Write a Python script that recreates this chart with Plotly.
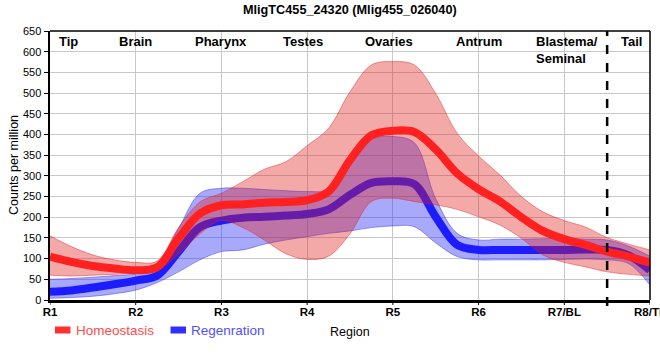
import plotly.graph_objects as go

# ---------------- data ----------------
categories = ["R1", "R2", "R3", "R4", "R5", "R6", "R7/BL", "R8/TL"]
regions = ["Tip", "Brain", "Pharynx", "Testes", "Ovaries", "Antrum", "Blastema/<br>Seminal", "Tail"]
region_pos = [0.22, 1.0, 2.0, 2.95, 3.95, 5.0, 6.03, 6.78]

# sample positions along the body axis (in region units, R1 = 0 ... R8 = 7)
pos = [0, 0.25, 0.5, 0.75, 1, 1.25, 1.5, 1.75, 2, 2.25, 2.5, 2.75, 3, 3.25, 3.5, 3.75,
       4, 4.25, 4.5, 4.75, 5, 5.25, 5.5, 5.75, 6, 6.25, 6.5, 6.75, 7]

homeo_mean = [105, 92, 82, 76, 72, 79, 149, 209, 229, 231, 235, 237, 241, 262, 338, 398,
              409, 406, 364, 306, 268, 238, 200, 167, 147, 133, 117, 105, 90]
homeo_upper = [155, 129, 109, 97, 91, 94, 175, 237, 258, 286, 316, 334, 373, 415, 503, 568,
               576, 568, 499, 403, 348, 302, 250, 213, 192, 176, 151, 135, 121]
homeo_lower = [60, 58, 60, 62, 65, 72, 110, 160, 192, 175, 145, 112, 98, 106, 160, 238,
               246, 238, 230, 219, 201, 181, 149, 109, 91, 80, 68, 62, 58]

regen_mean = [20, 23, 30, 38, 47, 59, 117, 176, 192, 199, 201, 204, 208, 219, 254, 283,
              287, 280, 201, 133, 121, 121, 121, 121, 121, 122, 121, 108, 72]
regen_upper = [50, 52, 55, 59, 64, 87, 173, 258, 270, 270, 267, 264, 262, 267, 334, 388,
               395, 380, 245, 161, 145, 147, 147, 148, 149, 147, 145, 130, 106]
regen_lower = [4, 6, 9, 15, 24, 42, 68, 97, 117, 121, 135, 145, 153, 161, 167, 175,
               179, 177, 138, 105, 97, 97, 97, 97, 98, 99, 97, 88, 36]

y_ticks = list(range(0, 651, 50))
title_text = "MligTC455_24320 (Mlig455_026040)"
series_names = ["Homeostasis", "Regenration"]

# ---------------- figure ----------------
W, H = 660, 360
ML, MR, MT, MB = 50, 10, 31, 60
PW, PH = W - ML - MR, H - MT - MB


def px(xp):
    return (xp - ML) / PW


def py(yp):
    return (H - MB - yp) / PH


FONT = "Liberation Sans, Arial, sans-serif"

fig = go.Figure()


def band(lower, upper, fillcol, edgecol):
    fig.add_trace(go.Scatter(x=pos, y=lower, mode="lines", line=dict(color=edgecol, width=1, shape="spline"),
                             showlegend=False, hoverinfo="skip"))
    fig.add_trace(go.Scatter(x=pos, y=upper, mode="lines", line=dict(color=edgecol, width=1, shape="spline"),
                             fill="tonexty", fillcolor=fillcol, showlegend=False, hoverinfo="skip"))


band(regen_lower, regen_upper, "rgba(40,40,245,0.40)", "rgba(40,40,245,0.45)")
fig.add_trace(go.Scatter(x=pos, y=regen_mean, mode="lines", name=series_names[1],
                         line=dict(color="#1c1cff", width=8, shape="spline"), showlegend=False))
band(homeo_lower, homeo_upper, "rgba(225,30,30,0.38)", "rgba(225,30,30,0.45)")
fig.add_trace(go.Scatter(x=pos, y=homeo_mean, mode="lines", name=series_names[0],
                         line=dict(color="#ff2020", width=8, shape="spline"), showlegend=False))

shapes = []
# top and right thin borders
shapes.append(dict(type="line", xref="paper", yref="paper", x0=0, x1=1, y0=1, y1=1,
                   line=dict(color="black", width=1.5)))
shapes.append(dict(type="line", xref="paper", yref="paper", x0=1, x1=1, y0=0, y1=1,
                   line=dict(color="black", width=1.5)))
# x tick marks
for i in range(len(categories)):
    shapes.append(dict(type="line", xref="x", yref="paper", x0=i, x1=i, y0=0, y1=-5 / PH,
                       line=dict(color="black", width=1)))
# dashed tail boundary
shapes.append(dict(type="line", xref="x", yref="paper", x0=6.5, x1=6.5, y0=-6 / PH, y1=1,
                   line=dict(color="black", width=2.5, dash="dash")))
# manual legend symbols
shapes.append(dict(type="rect", xref="paper", yref="paper", x0=px(55), x1=px(70.5), y0=py(333.5), y1=py(326.5),
                   fillcolor="#ff3030", line=dict(width=0)))
shapes.append(dict(type="rect", xref="paper", yref="paper", x0=px(170.5), x1=px(186), y0=py(333.5), y1=py(326.5),
                   fillcolor="#3030ff", line=dict(width=0)))

annotations = []
for name, xp in zip(regions, region_pos):
    annotations.append(dict(x=xp, y=1, xref="x", yref="paper", text="<b>%s</b>" % name, showarrow=False,
                            xanchor="center", yanchor="top", yshift=-1, align="left",
                            font=dict(family=FONT, size=13, color="black")))
annotations.append(dict(x=0.5, y=py(10), xref="paper", yref="paper", text="<b>%s</b>" % title_text,
                        showarrow=False, xanchor="center", yanchor="middle",
                        font=dict(family=FONT, size=12.7, color="black")))
annotations.append(dict(x=px(350), y=py(332), xref="paper", yref="paper", text="Region",
                        showarrow=False, xanchor="center", yanchor="middle",
                        font=dict(family=FONT, size=12.5, color="black")))
annotations.append(dict(x=px(14), y=py(165), xref="paper", yref="paper", text="Counts per million",
                        showarrow=False, xanchor="center", yanchor="middle", textangle=-90,
                        font=dict(family=FONT, size=12.5, color="black")))
annotations.append(dict(x=px(74), y=py(330), xref="paper", yref="paper", text=series_names[0],
                        showarrow=False, xanchor="left", yanchor="middle",
                        font=dict(family=FONT, size=13.5, color="#ff4c4c")))
annotations.append(dict(x=px(189), y=py(330), xref="paper", yref="paper", text=series_names[1],
                        showarrow=False, xanchor="left", yanchor="middle",
                        font=dict(family=FONT, size=13.5, color="#5050ff")))

fig.update_layout(
    width=W, height=H,
    margin=dict(l=ML, r=MR, t=MT, b=MB, pad=0, autoexpand=False),
    paper_bgcolor="white", plot_bgcolor="white",
    showlegend=False,
    shapes=shapes, annotations=annotations,
    xaxis=dict(range=[0, 7], tickmode="array", tickvals=list(range(len(categories))),
               ticktext=["<b>%s</b>" % c for c in categories],
               showgrid=True, gridcolor="#c8c8c8", gridwidth=1,
               showline=True, linecolor="black", linewidth=2.5,
               ticks="", ticklabeloverflow="allow", automargin=False,
               tickfont=dict(family=FONT, size=11.5, color="black"), zeroline=False, fixedrange=True),
    yaxis=dict(range=[0, 650], tickmode="array", tickvals=y_ticks,
               showgrid=True, gridcolor="#c8c8c8", gridwidth=1,
               showline=True, linecolor="black", linewidth=2.5, automargin=False,
               ticks="outside", ticklen=4, tickcolor="black", tickwidth=1,
               tickfont=dict(family=FONT, size=11, color="black"), zeroline=False, fixedrange=True),
)

fig.write_html("out.html", config={"displayModeBar": False, "staticPlot": True},
               post_script="document.body.style.margin='0';document.body.style.overflow='hidden';")
